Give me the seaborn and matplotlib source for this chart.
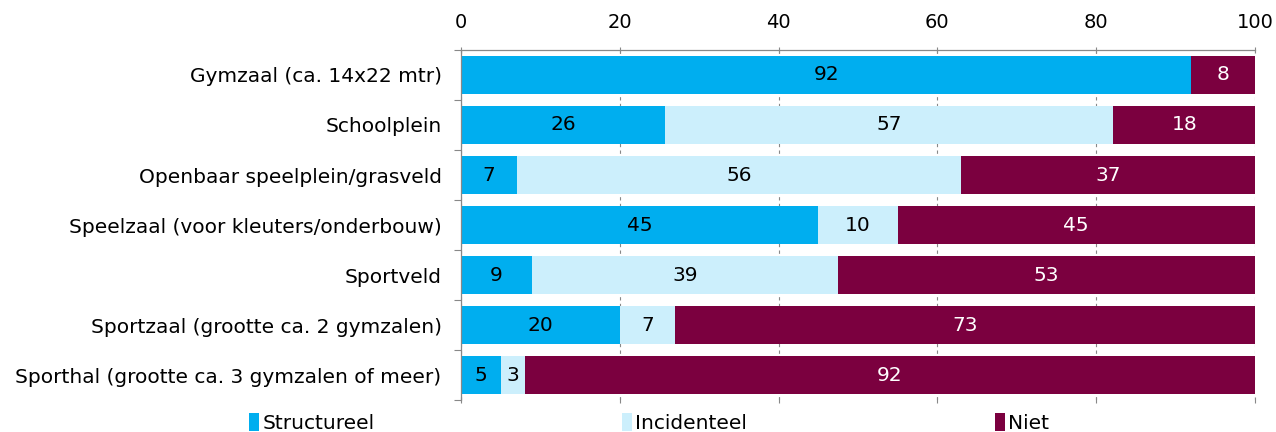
import matplotlib
matplotlib.use("Agg")
import matplotlib.pyplot as plt
from matplotlib.patches import Patch
import numpy as np
import pandas as pd
import seaborn as sns

# ── Data ──────────────────────────────────────────────────────────────────────
LOCATIES = [
    "Gymzaal (ca. 14x22 mtr)",
    "Schoolplein",
    "Openbaar speelplein/grasveld",
    "Speelzaal (voor kleuters/onderbouw)",
    "Sportveld",
    "Sportzaal (grootte ca. 2 gymzalen)",
    "Sporthal (grootte ca. 3 gymzalen of meer)",
]
STRUCTUREEL = [92, 26, 7, 45, 9, 20, 5]
INCIDENTEEL = [0, 57, 56, 10, 39, 7, 3]
NIET        = [8, 18, 37, 45, 53, 73, 92]
SERIES      = ["Structureel", "Incidenteel", "Niet"]
XTICKS      = [0, 20, 40, 60, 80, 100]

COLORS     = {"Structureel": "#00AEEF", "Incidenteel": "#CCEFFC", "Niet": "#7B003F"}
TEXT_COLOR = {"Structureel": "black", "Incidenteel": "black", "Niet": "white"}

df = pd.DataFrame({"locatie": LOCATIES, "Structureel": STRUCTUREEL,
                   "Incidenteel": INCIDENTEEL, "Niet": NIET})
# 100% gestapeld: normaliseren op de rijtotalen
totaal = df[SERIES].sum(axis=1)
for s in SERIES:
    df[s + "_pct"] = df[s] / totaal * 100
df["cum_s"] = df["Structureel_pct"]
df["cum_i"] = df["cum_s"] + df["Incidenteel_pct"]
df["cum_n"] = df["cum_i"] + df["Niet_pct"]

sns.set_style("white")
plt.rcParams["font.family"] = ["DejaVu Sans"]
plt.rcParams["text.color"] = "black"

fig = plt.figure(figsize=(12.76, 4.32), dpi=100)
ax = fig.add_axes([0.3613, 0.074, 0.6222, 0.8103])

# gestapeld via overlappende balken (grootste eerst)
for col, s in [("cum_n", "Niet"), ("cum_i", "Incidenteel"), ("cum_s", "Structureel")]:
    sns.barplot(data=df, x=col, y="locatie", orient="h", color=COLORS[s],
                width=0.75, saturation=1, edgecolor="none", ax=ax, zorder=2)

# waardelabels
for i, row in df.iterrows():
    start = 0
    for s in SERIES:
        w = row[s + "_pct"]
        if row[s] > 0:
            ax.text(start + w / 2, i, f"{row[s]}", ha="center", va="center",
                    fontsize=14.5, color=TEXT_COLOR[s], zorder=3)
        start += w

# ── Assen ─────────────────────────────────────────────────────────────────────
ax.set_xlim(0, 100)
ax.set_ylim(len(LOCATIES) - 0.5, -0.5)
ax.set_xticks(XTICKS)
ax.tick_params(axis="x", top=True, labeltop=True, bottom=True, labelbottom=False,
               labelsize=14, colors="#888888", labelcolor="black",
               length=4, width=0.8, direction="inout", pad=11)
ax.set_xlabel("")
ax.set_ylabel("")
ax.grid(axis="x", color="#888888", linestyle=(0, (3, 3)), linewidth=0.8, zorder=0)

ax.set_yticks(range(len(LOCATIES)))
ax.set_yticklabels(LOCATIES, fontsize=14.5, color="black")
ax.set_yticks(np.arange(-0.5, len(LOCATIES)), minor=True)
ax.tick_params(axis="y", which="major", left=False, length=0, pad=14)
ax.tick_params(axis="y", which="minor", left=True, length=5, width=0.8,
               color="#888888", direction="out")

for side in ["right", "bottom"]:
    ax.spines[side].set_visible(False)
for side in ["top", "left"]:
    ax.spines[side].set_color("#888888")
    ax.spines[side].set_linewidth(0.9)

# ── Legenda ───────────────────────────────────────────────────────────────────
handles = [Patch(facecolor=COLORS[s], edgecolor="none") for s in SERIES]
fig.legend(handles, SERIES, loc="lower left", bbox_to_anchor=(0.181, -0.045),
           ncol=3, frameon=False, fontsize=14.5, handlelength=0.5,
           handleheight=1.0, handletextpad=0.15, columnspacing=12.3)

fig.savefig("out.png", dpi=100)
